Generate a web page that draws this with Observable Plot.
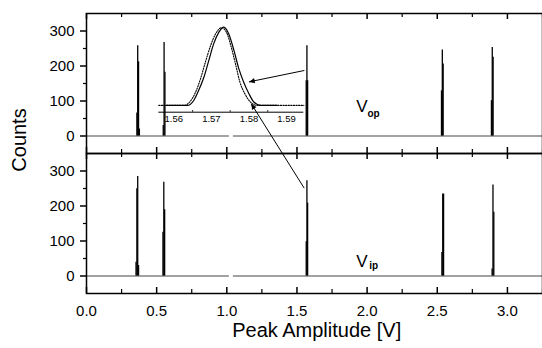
<!DOCTYPE html>
<html>
<head>
<meta charset="utf-8">
<script src="https://cdn.jsdelivr.net/npm/d3@7"></script>
<script src="https://cdn.jsdelivr.net/npm/@observablehq/plot@0.6"></script>
<style>
  html, body { margin: 0; padding: 0; background: #fff; }
  #wrap { position: relative; width: 542px; height: 348px; overflow: hidden; }
  #wrap svg { position: absolute; overflow: visible; }
</style>
</head>
<body>
<div id="wrap"></div>
<script>
// ---------- data ----------
const panels = ["op", "ip"];

// histogram bins (peak amplitude [V]) and counts, upper panel V_op
const opBinX   = [0.359, 0.365, 0.371, 0.377,  0.547, 0.553, 0.559,  1.566, 1.571, 1.576,  2.530, 2.536, 2.542,  2.886, 2.892, 2.898];
const opCounts = [66,    258,   212,   20,     30,    267,   182,    158,   258,   158,    129,   246,   206,    101,   253,   225];

// lower panel V_ip
const ipBinX   = [0.353, 0.359, 0.365, 0.371,  0.545, 0.551, 0.557,  1.566, 1.571, 1.576,  2.533, 2.539, 2.545,  2.891, 2.897, 2.903];
const ipCounts = [39,    249,   284,   30,     125,   268,   189,    98,    272,   208,    67,    234,   234,    20,    260,   182];

// zero-count baseline pieces (small gap near 1.03 V)
const baseStart = [0, 1.047];
const baseEnd   = [1.018, 3.25];

// axis ticks
const xMajor = [0, 0.5, 1.0, 1.5, 2.0, 2.5, 3.0];
const xMinor = [0.25, 0.75, 1.25, 1.75, 2.25, 2.75, 3.25];
const yMajor = [0, 100, 200, 300];
const yMinor = [50, 150, 250];

// inset: zoom on the 1.57 V peak
const insetSolidX = [1.5580, 1.5636, 1.5653, 1.5666, 1.5680, 1.5693, 1.5706, 1.5720, 1.5733, 1.5746, 1.5760, 1.5773, 1.5786, 1.5800, 1.5813, 1.5831, 1.5875];
const insetSolidY = [0,      0,      19,     57,     108,    172,    236,    281,    300,    275,    211,    141,    89,     45,     13,     0,      0];
const insetDotX   = [1.5560, 1.5627, 1.5644, 1.5658, 1.5671, 1.5684, 1.5698, 1.5711, 1.5727, 1.5740, 1.5753, 1.5764, 1.5776, 1.5789, 1.5804, 1.5822, 1.5946];
const insetDotY   = [0,      0,      16,     51,     102,    166,    230,    274,    298,    281,    223,    160,    89,     45,     13,     0,      0];
const insetXDomain = [1.556, 1.5946];
const insetYDomain = [-26, 300];
const insetTicks = [1.56, 1.57, 1.58, 1.59];
const insetMinor = [1.565, 1.575, 1.585];

// arrows (upper-panel data coordinates): tail -> head
const arrowX1 = [1.550, 1.550];
const arrowY1 = [187, -148];
const arrowX2 = [1.162, 1.176];
const arrowY2 = [155, 91];

// ---------- build ----------
const FONT = "'Liberation Sans', Arial, Helvetica, sans-serif";
const bins = [
  ...opBinX.map((x, i) => ({panel: "op", x, c: opCounts[i]})),
  ...ipBinX.map((x, i) => ({panel: "ip", x, c: ipCounts[i]}))
];
const base = panels.flatMap(p => baseStart.map((x1, i) => ({panel: p, x1, x2: baseEnd[i]})));
const arrows = arrowX1.map((x1, i) => ({panel: "op", x1, y1: arrowY1[i], x2: arrowX2[i], y2: arrowY2[i]}));
const solid = insetSolidX.map((x, i) => ({x, y: insetSolidY[i]}));
const dotted = insetDotX.map((x, i) => ({x, y: insetDotY[i]}));

const facetH = 140;
function build(extra) {
  return Plot.plot({
    width: 542, height: 348,
    marginLeft: 86, marginRight: 0, marginTop: 13, marginBottom: 55,
    x: {domain: [0, 3.25]},
    y: {domain: [-50, 350]},
    fy: {domain: panels, axis: null, padding: 0},
    style: {fontFamily: FONT, fontSize: "15px", color: "black", background: "white"},
    marks: [
      Plot.ruleY(base, {fy: "panel", y: 0, x1: "x1", x2: "x2", stroke: "#444", strokeWidth: 1}),
      Plot.ruleX(bins, {fy: "panel", x: "x", y1: 0, y2: "c", stroke: "black", strokeWidth: 1.3}),
      Plot.frame({stroke: "black", strokeWidth: 1.5}),
      Plot.tickX(xMajor, {x: d => d, insetBottom: facetH - 6, stroke: "black", strokeWidth: 1.5}),
      Plot.tickX(xMajor, {x: d => d, insetTop: facetH - 6, stroke: "black", strokeWidth: 1.5}),
      Plot.tickX(xMinor, {x: d => d, insetBottom: facetH - 4, stroke: "black", strokeWidth: 1.2}),
      Plot.tickX(xMinor, {x: d => d, insetTop: facetH - 4, stroke: "black", strokeWidth: 1.2}),
      Plot.axisY({ticks: yMajor, tickSize: 6, tickPadding: 6, label: null, strokeWidth: 1.5, fontSize: 15}),
      Plot.axisY({ticks: yMinor, tickSize: 3, tickFormat: () => "", label: null, strokeWidth: 1.2}),
      Plot.axisX({ticks: xMajor, tickSize: 0, tickPadding: 12, tickFormat: d3.format(".1f"), label: null, fontSize: 15}),
      Plot.arrow(arrows, {fy: "panel", x1: "x1", y1: "y1", x2: "x2", y2: "y2", stroke: "black", strokeWidth: 1, headLength: 5, headAngle: 30}),
      ...extra
    ]
  });
}
// first pass to read the scales, then add filled arrow heads oriented along each arrow
let chart = build([]);
const sx = chart.scale("x"), sy = chart.scale("y");
const heads = arrows.map(a => {
  const dxp = sx.apply(a.x2) - sx.apply(a.x1);
  const dyp = sy.apply(a.y2) - sy.apply(a.y1);
  const L = Math.hypot(dxp, dyp), ux = dxp / L, uy = dyp / L;
  const rot = Math.atan2(ux, -uy) * 180 / Math.PI;
  return Plot.dot([a], {fy: "panel", x: "x2", y: "y2", symbol: "triangle2", r: 2.6,
    fill: "black", stroke: "none", rotate: rot, dx: -ux * 3.6, dy: -uy * 3.6});
});
chart = build(heads);
chart.style.left = "0px";
chart.style.top = "0px";

const inset = Plot.plot({
  width: 165, height: 110,
  marginLeft: 10.3, marginRight: 9.7, marginTop: 8.7, marginBottom: 16.3,
  x: {domain: insetXDomain},
  y: {domain: insetYDomain, axis: null},
  style: {fontFamily: FONT, fontSize: "9.5px", color: "black", background: "transparent"},
  marks: [
    Plot.ruleY([insetYDomain[0]], {stroke: "black", strokeWidth: 1}),
    Plot.tickX(insetMinor, {x: d => d, insetTop: 83.5, stroke: "black", strokeWidth: 1}),
    Plot.line(dotted, {x: "x", y: "y", curve: "monotone-x", stroke: "black", strokeWidth: 1.1, strokeDasharray: "1.2 1.4"}),
    Plot.line(solid, {x: "x", y: "y", curve: "monotone-x", stroke: "black", strokeWidth: 1.2}),
    Plot.axisX({ticks: insetTicks, tickSize: 0, tickPadding: 3, tickFormat: d3.format(".2f"), label: null, fontSize: 9.5})
  ]
});
inset.style.left = "148px";
inset.style.top = "18px";

const wrap = document.getElementById("wrap");
wrap.appendChild(chart);
wrap.appendChild(inset);

// ---------- text labels ----------
const svg = d3.select(chart);
svg.append("text")
  .attr("transform", "translate(25.5,140) rotate(-90)")
  .attr("text-anchor", "middle")
  .attr("font-family", FONT).attr("font-size", 20).attr("fill", "black")
  .text("Counts");
svg.append("text")
  .attr("x", 316.7).attr("y", 336.7)
  .attr("text-anchor", "middle")
  .attr("font-family", FONT).attr("font-size", 20).attr("fill", "black")
  .text("Peak Amplitude [V]");
// panel labels V_op and V_ip
const lab = [
  {v: "V", sub: "op", x: 362, y: 111.7, sy: 117},
  {v: "V", sub: "ip", x: 362, y: 266.7, sy: 268.5}
];
for (const l of lab) {
  svg.append("text").attr("x", l.x).attr("y", l.y)
    .attr("font-family", FONT).attr("font-size", 17).attr("fill", "black").text(l.v);
  svg.append("text").attr("x", l.x + 11.6).attr("y", l.sy)
    .attr("font-family", FONT).attr("font-size", 10).attr("font-weight", "bold").attr("fill", "black").text(l.sub);
}
</script>
</body>
</html>
